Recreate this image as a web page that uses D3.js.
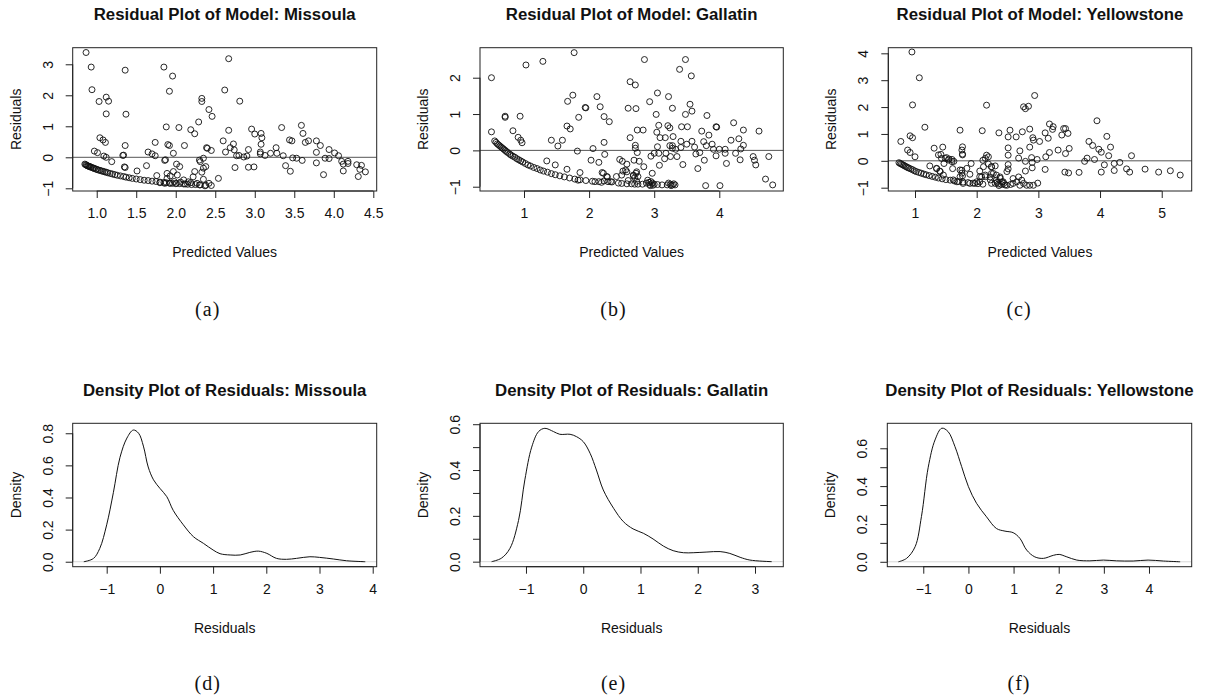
<!DOCTYPE html>
<html>
<head>
<meta charset="utf-8">
<script src="https://cdn.jsdelivr.net/npm/d3@7"></script>
<style>
  body { margin: 0; background: #fff; }
  svg text { font-family: "Liberation Sans", Arial, Helvetica, sans-serif; fill: #111; }
</style>
</head>
<body>
<svg id="chart" width="1205" height="700"></svg>
<script>
// ---- Residuals vs predicted values, one array of [predicted, residual] per county ----
const missoulaFit = [
  [0.865,3.38],[0.93,2.91],[0.94,2.18],[1.03,1.80],[1.12,1.94],[1.15,1.81],[1.12,1.40],[1.36,2.81],[1.37,1.39],
  [1.36,0.38],[1.33,0.06],[1.34,0.07],[1.35,-0.31],[1.36,-0.33],[1.04,0.63],[1.08,0.56],[1.11,0.48],[0.97,0.20],
  [1.01,0.15],[1.09,0.04],[1.12,0.0],[1.19,-0.14],[1.51,-0.44],[1.63,-0.27],[1.65,0.17],[1.70,0.11],[1.74,0.05],
  [1.74,0.48],[1.76,-0.59],[1.85,2.91],[1.92,2.13],[1.96,2.62],[1.88,0.98],[1.90,0.41],[1.92,0.38],[1.97,0.13],
  [2.04,0.96],[2.11,0.38],[1.86,-0.10],[1.87,-0.08],[2.19,0.89],[2.24,0.76],[2.29,1.14],[2.33,1.90],[2.33,1.80],
  [2.42,1.54],[2.46,1.32],[2.39,0.31],[2.45,0.22],[2.35,-0.03],[2.31,-0.14],[2.38,-0.30],[2.33,-0.48],[2.35,-0.71],
  [2.45,-0.91],[2.54,-0.68],[2.60,0.53],[2.62,2.17],[2.67,3.18],[2.67,0.87],[2.63,0.17],[2.69,0.31],[2.73,0.43],
  [2.74,0.24],[2.75,-0.33],[2.77,0.05],[2.81,1.81],[2.80,0.06],[2.86,0.01],[2.90,0.04],[2.92,0.25],[2.92,-0.32],
  [2.96,0.91],[2.99,-0.31],[3.00,0.75],[3.08,0.77],[3.09,0.63],[3.08,0.42],[3.07,0.17],[3.07,0.11],[3.13,0.06],
  [3.20,0.13],[3.27,0.31],[3.28,0.13],[3.34,0.96],[3.36,0.05],[3.39,-0.27],[3.44,0.56],[3.47,0.53],[3.45,-0.45],
  [3.48,-0.02],[3.53,-0.03],[3.59,1.03],[3.61,0.77],[3.64,0.48],[3.68,0.53],[3.60,-0.10],[3.78,0.53],[3.78,0.16],
  [3.83,0.38],[3.78,-0.18],[3.87,-0.56],[3.89,-0.03],[3.94,-0.04],[3.94,0.25],[4.01,0.14],[4.06,0.05],[4.10,-0.13],
  [4.12,-0.44],[4.12,-0.22],[4.18,-0.13],[4.18,-0.20],[4.29,-0.24],[4.31,-0.62],[4.35,-0.26],[4.33,-0.39],[4.40,-0.47],
  [1.89,-0.52],[1.93,-0.60],[1.97,-0.46],[2.02,-0.57],[2.05,-0.30],[2.01,-0.22],[1.89,-0.68],[2.10,-0.73],[2.16,-0.79],
  [2.22,-0.63],[2.24,-0.46],[2.30,-0.09],[2.40,0.29],[2.35,-0.35],[2.31,-0.89],[2.37,-0.92],[2.27,-0.84],[2.19,-0.82],
  [2.12,-0.86],[2.01,-0.84],[1.93,-0.84],[1.86,-0.84],[1.80,-0.82],[2.06,-0.80],[1.98,-0.78],[2.42,-0.84],
  [0.85,-0.22],[0.86,-0.24],[0.87,-0.25],[0.88,-0.27],[0.89,-0.28],[0.90,-0.29],[0.91,-0.30],[0.92,-0.31],[0.93,-0.32],
  [0.95,-0.34],[0.96,-0.35],[0.97,-0.36],[0.99,-0.38],[1.00,-0.39],[1.02,-0.41],[1.04,-0.42],[1.06,-0.44],[1.08,-0.45],
  [1.10,-0.47],[1.12,-0.48],[1.14,-0.50],[1.17,-0.52],[1.20,-0.54],[1.23,-0.56],[1.26,-0.58],[1.30,-0.60],[1.34,-0.62],
  [1.37,-0.64],[1.41,-0.66],[1.45,-0.68],[1.50,-0.70],[1.55,-0.72],[1.60,-0.74],[1.65,-0.75],[1.70,-0.77],[1.75,-0.78],
  [1.80,-0.80],[1.85,-0.81],[1.88,-0.82],[1.92,-0.83],[1.96,-0.84],[2.00,-0.85],[2.05,-0.85],[2.10,-0.86],[2.15,-0.87],
  [2.20,-0.88],[2.25,-0.88],[2.30,-0.89],[2.38,-0.90]
];

const gallatinFit = [
  [0.50,2.0],[0.50,0.51],[0.71,0.94],[0.71,0.91],[0.94,0.94],[0.83,0.54],[0.91,0.36],[0.95,0.28],[0.97,0.21],
  [1.03,2.35],[1.29,2.45],[1.35,-0.29],[1.42,0.28],[1.48,-0.40],[1.52,0.12],[1.59,0.28],[1.67,1.35],[1.66,0.67],
  [1.71,0.59],[1.75,1.52],[1.77,2.69],[1.66,-0.52],[1.82,-0.02],[1.84,0.91],[1.86,-0.61],[1.94,1.18],[1.95,1.17],
  [2.03,-0.27],[2.06,0.05],[2.12,1.48],[2.17,1.20],[2.15,-0.33],[2.20,-0.61],[2.23,0.93],[2.23,0.22],[2.24,-0.11],
  [2.31,0.79],[2.28,-0.73],[2.33,-0.86],[2.23,-0.84],[2.47,-0.25],[2.51,-0.30],[2.52,-0.57],[2.56,-0.54],[2.58,-0.38],
  [2.60,1.16],[2.63,0.35],[2.63,1.89],[2.71,1.80],[2.72,1.15],[2.74,0.56],[2.71,0.14],[2.71,0.06],[2.74,-0.06],
  [2.69,-0.27],[2.77,-0.30],[2.72,-0.63],[2.75,-0.72],[2.83,0.56],[2.84,-0.45],[2.85,2.50],[2.93,1.34],[2.95,-0.16],
  [2.97,-0.63],[3.03,0.99],[3.04,0.50],[3.05,1.58],[3.07,0.69],[3.05,0.10],[3.00,-0.08],[3.07,-0.08],[3.09,0.35],
  [3.08,-0.41],[3.17,0.35],[3.18,-0.08],[3.16,-0.23],[3.22,1.48],[3.21,0.68],[3.24,0.62],[3.24,0.13],[3.25,-0.17],
  [3.28,1.16],[3.28,0.13],[3.28,0.06],[3.29,0.38],[3.33,0.03],[3.35,-0.17],[3.39,2.23],[3.41,0.25],[3.41,0.08],
  [3.42,0.65],[3.44,-0.39],[3.48,2.50],[3.48,0.99],[3.51,0.65],[3.50,0.17],[3.55,1.27],[3.57,2.05],[3.58,1.08],
  [3.58,0.25],[3.62,0.09],[3.64,-0.10],[3.67,-0.50],[3.70,-0.06],[3.73,0.53],[3.76,0.24],[3.77,-0.27],[3.81,0.96],
  [3.79,-0.97],[3.80,0.13],[3.84,0.42],[3.89,0.17],[3.95,0.65],[3.96,0.64],[3.91,0.03],[3.95,-0.15],[4.01,-0.97],
  [4.00,0.03],[4.09,0.03],[4.11,-0.36],[4.09,-0.08],[4.18,0.28],[4.22,0.76],[4.25,-0.08],[4.30,0.32],[4.32,-0.26],
  [4.33,0.04],[4.37,0.56],[4.37,0.14],[4.52,-0.17],[4.54,-0.27],[4.56,-0.40],[4.61,0.53],[4.71,-0.79],[4.76,-0.17],
  [4.82,-0.95],
  [2.09,-0.86],[2.19,-0.88],[2.29,-0.86],[2.42,-0.72],[2.50,-0.68],[2.58,-0.59],[2.68,-0.68],[2.73,-0.59],[2.22,-0.63],
  [2.27,-0.72],[1.83,-0.82],
  [2.35,-0.87],[2.45,-0.90],[2.50,-0.91],[2.58,-0.92],[2.65,-0.92],[2.70,-0.93],[2.75,-0.93],[2.82,-0.93],[2.88,-0.90],
  [2.92,-0.88],[2.95,-0.86],[2.97,-0.90],[3.00,-0.93],[2.93,-0.94],[3.05,-0.94],[3.12,-0.95],[3.20,-0.95],[3.22,-0.90],
  [3.25,-0.93],[3.28,-0.95],[3.30,-0.92],[3.32,-0.95],[2.70,-0.75],[2.73,-0.85],[2.68,-0.70],[2.60,-0.83],[2.90,-0.82],
  [2.94,-0.97],[2.98,-0.96],[3.26,-0.97],
  [0.55,0.26],[0.57,0.22],[0.59,0.18],[0.61,0.15],[0.63,0.12],[0.65,0.09],[0.67,0.06],[0.69,0.03],[0.71,0.00],
  [0.73,-0.03],[0.75,-0.06],[0.78,-0.10],[0.80,-0.13],[0.83,-0.16],[0.86,-0.19],[0.89,-0.23],[0.92,-0.26],[0.95,-0.29],
  [0.98,-0.32],[1.02,-0.36],[1.06,-0.40],[1.10,-0.43],[1.15,-0.47],[1.20,-0.50],[1.25,-0.54],[1.30,-0.57],[1.36,-0.60],
  [1.42,-0.64],[1.48,-0.67],[1.55,-0.70],[1.62,-0.73],[1.70,-0.76],[1.78,-0.79],[1.86,-0.81],[1.95,-0.83],[2.05,-0.85],
  [2.15,-0.86]
];

const yellowstoneFit = [
  [0.95,4.05],[1.07,3.09],[0.96,2.08],[0.77,0.72],[0.92,0.93],[0.96,0.86],[0.88,0.40],[0.92,0.31],[1.00,0.15],
  [1.16,1.25],[1.24,-0.19],[1.31,0.47],[1.45,0.51],[1.42,0.24],[1.47,-0.10],[1.35,-0.29],[1.40,-0.38],[1.51,0.12],
  [1.55,0.07],[1.60,0.05],[1.63,-0.02],[1.61,-0.29],[1.73,1.14],[1.77,0.52],[1.77,0.25],[1.76,-0.35],[1.77,-0.56],
  [1.91,-0.10],[1.89,-0.50],[2.09,1.12],[2.16,2.07],[2.10,0.02],[2.16,0.21],[2.19,-0.12],[2.24,-0.22],[2.27,-0.47],
  [2.36,1.04],[2.51,0.48],[2.51,0.21],[2.51,-0.14],[2.51,-0.30],[2.51,0.89],[2.54,1.14],[2.64,0.89],[2.68,0.10],
  [2.70,0.37],[2.74,1.08],[2.76,2.01],[2.79,1.94],[2.84,2.03],[2.94,2.43],[2.86,1.18],[2.91,0.86],[2.92,0.77],
  [2.86,0.51],[2.89,0.12],[2.90,-0.06],[2.90,-0.26],[2.79,-0.02],[2.79,-0.38],[2.98,0.05],[3.02,0.72],[3.11,1.04],
  [3.11,-0.32],[3.12,0.15],[3.16,0.84],[3.18,0.31],[3.18,1.37],[3.23,1.17],[3.24,1.27],[3.32,0.40],[3.38,0.96],
  [3.41,1.20],[3.44,1.20],[3.44,0.27],[3.43,-0.42],[3.49,-0.45],[3.48,1.02],[3.50,0.46],[3.66,-0.43],[3.75,-0.02],
  [3.79,0.10],[3.82,0.72],[3.88,0.57],[3.91,0.05],[3.95,1.49],[3.98,0.43],[4.02,0.32],[4.02,-0.42],[4.07,-0.15],
  [4.11,0.91],[4.14,0.19],[4.17,0.51],[4.23,-0.36],[4.23,-0.10],[4.32,-0.06],[4.43,-0.30],[4.48,-0.42],[4.51,0.19],
  [4.73,-0.31],[4.95,-0.42],[5.14,-0.37],[5.30,-0.53],[2.99,-0.83],
  [2.05,-0.38],[2.11,-0.22],[2.14,0.09],[2.19,0.15],[2.24,-0.22],[2.30,-0.19],[2.24,-0.47],[2.32,-0.53],[2.38,-0.65],
  [2.41,-0.78],[2.35,-0.86],[2.46,-0.90],[2.30,-0.84],[2.22,-0.71],[2.14,-0.59],[2.05,-0.59],[2.00,-0.78],[1.89,-0.84],
  [1.78,-0.84],[1.73,-0.59],[1.68,-0.78],[1.62,-0.71],[2.49,-0.40],
  [1.38,0.22],[1.43,0.09],[1.49,0.09],[1.54,0.03],[1.60,-0.03],[1.35,-0.28],[1.41,-0.40],[1.46,-0.53],[1.73,-0.34],
  [1.76,-0.46],[1.84,-0.28],[1.76,0.40],[1.77,0.22],
  [2.38,-0.60],[2.43,-0.78],[2.49,-0.91],[2.59,-0.84],[2.65,-0.78],[2.68,-0.60],[2.70,-0.91],[2.76,-0.84],[2.81,-0.91],
  [2.86,-0.91],[2.92,-0.91],[2.59,-0.66],[2.73,-0.72],[2.32,-0.72],[2.24,-0.84],[2.22,-0.60],[2.14,-0.53],[2.08,-0.60],
  [2.05,-0.78],[1.97,-0.84],[2.36,-0.92],[2.40,-0.88],[2.44,-0.84],[2.33,-0.80],[2.55,-0.88],
  [0.74,-0.07],[0.76,-0.10],[0.78,-0.12],[0.80,-0.15],[0.82,-0.17],[0.84,-0.20],[0.86,-0.22],[0.88,-0.25],[0.90,-0.27],
  [0.93,-0.30],[0.96,-0.33],[0.99,-0.37],[1.02,-0.40],[1.06,-0.43],[1.10,-0.46],[1.14,-0.49],[1.18,-0.52],[1.23,-0.55],
  [1.28,-0.58],[1.33,-0.61],[1.38,-0.64],[1.44,-0.67],[1.50,-0.70],[1.57,-0.72],[1.64,-0.75],[1.71,-0.77],[1.78,-0.79],
  [1.86,-0.81],[1.94,-0.83],[2.02,-0.85],[2.10,-0.87]
];

// ---- Kernel density estimates of the residuals, [residual, density] ----
const missoulaDensity = [
  [-1.43,0.0],[-1.25,0.02],[-1.13,0.083],[-1.0,0.23],[-0.875,0.43],[-0.75,0.65],[-0.62,0.77],[-0.50,0.82],
  [-0.40,0.80],[-0.31,0.72],[-0.22,0.59],[-0.12,0.51],[0.0,0.457],[0.13,0.405],[0.25,0.32],[0.44,0.23],
  [0.63,0.156],[0.82,0.114],[1.0,0.073],[1.13,0.05],[1.32,0.042],[1.51,0.042],[1.69,0.058],[1.85,0.066],
  [2.01,0.052],[2.19,0.021],[2.38,0.015],[2.57,0.021],[2.82,0.031],[3.0,0.027],[3.26,0.017],[3.51,0.006],[3.86,0.0]
];
const gallatinDensity = [
  [-1.60,0.0],[-1.43,0.015],[-1.28,0.058],[-1.13,0.18],[-1.02,0.357],[-0.90,0.50],[-0.78,0.568],[-0.67,0.582],
  [-0.52,0.568],[-0.41,0.556],[-0.23,0.556],[-0.12,0.546],[0.0,0.524],[0.12,0.473],[0.23,0.40],[0.35,0.313],
  [0.53,0.233],[0.70,0.175],[0.87,0.143],[1.05,0.124],[1.22,0.099],[1.40,0.068],[1.57,0.048],[1.75,0.039],
  [1.92,0.039],[2.16,0.042],[2.39,0.044],[2.56,0.036],[2.74,0.019],[2.91,0.007],[3.29,0.0]
];
const yellowstoneDensity = [
  [-1.55,0.0],[-1.37,0.018],[-1.18,0.08],[-1.04,0.24],[-0.89,0.50],[-0.74,0.644],[-0.59,0.706],[-0.45,0.688],
  [-0.30,0.61],[-0.15,0.503],[0.0,0.397],[0.18,0.309],[0.40,0.238],[0.62,0.176],[0.81,0.162],[0.99,0.154],
  [1.14,0.124],[1.29,0.062],[1.47,0.026],[1.66,0.018],[1.88,0.034],[2.01,0.039],[2.18,0.026],[2.40,0.009],
  [2.69,0.005],[2.99,0.009],[3.28,0.005],[3.65,0.004],[3.98,0.009],[4.32,0.004],[4.69,0.0]
];

// ---- Axis ticks ----
const missoulaXTicks = [1.0,1.5,2.0,2.5,3.0,3.5,4.0,4.5];
const missoulaYTicks = [-1,0,1,2,3];
const gallatinXTicks = [1,2,3,4];
const gallatinYTicks = [-1,0,1,2];
const yellowstoneXTicks = [1,2,3,4,5];
const yellowstoneYTicks = [-1,0,1,2,3,4];
const missoulaResidTicks = [-1,0,1,2,3,4];
const gallatinResidTicks = [-1,0,1,2,3];
const yellowstoneResidTicks = [-1,0,1,2,3,4];
const missoulaDensTicks = [0.0,0.2,0.4,0.6,0.8];
const gallatinDensTicks = [0.0,0.1,0.2,0.3,0.4,0.5,0.6];
const yellowstoneDensTicks = [0.0,0.1,0.2,0.3,0.4,0.5,0.6];
const densLabelTicks = [0.0,0.2,0.4,0.6,0.8];

const panels = [
  { kind: "scatter", title: "Residual Plot of Model: Missoula", data: missoulaFit,
    box: [72.7, 47.7, 376.7, 191], xDom: [0.696, 4.543], yDom: [-1.087, 3.535],
    xTicks: missoulaXTicks, yTicks: missoulaYTicks, xFmt: d3.format(".1f"), yFmt: d3.format("d"),
    xLab: "Predicted Values", yLab: "Residuals", tag: "(a)", tagX: 207.7, tagY: 308.7 },
  { kind: "scatter", title: "Residual Plot of Model: Gallatin", data: gallatinFit,
    box: [480, 47.7, 783.3, 191], xDom: [0.324, 4.983], yDom: [-1.118, 2.826],
    xTicks: gallatinXTicks, yTicks: gallatinYTicks, xFmt: d3.format("d"), yFmt: d3.format("d"),
    xLab: "Predicted Values", yLab: "Residuals", tag: "(b)", tagX: 613.5, tagY: 308.7 },
  { kind: "scatter", title: "Residual Plot of Model: Yellowstone", data: yellowstoneFit,
    box: [888.3, 47.7, 1191.7, 191], xDom: [0.567, 5.486], yDom: [-1.123, 4.209],
    xTicks: yellowstoneXTicks, yTicks: yellowstoneYTicks, xFmt: d3.format("d"), yFmt: d3.format("d"),
    xLab: "Predicted Values", yLab: "Residuals", tag: "(c)", tagX: 1019, tagY: 308.7 },
  { kind: "density", title: "Density Plot of Residuals: Missoula", data: missoulaDensity,
    box: [72.7, 423.3, 376.7, 566.7], xDom: [-1.639, 4.075], yDom: [-0.031, 0.862],
    xTicks: missoulaResidTicks, yTicks: missoulaDensTicks, xFmt: d3.format("d"), yFmt: d3.format(".1f"),
    xLab: "Residuals", yLab: "Density", tag: "(d)", tagX: 207.7, tagY: 683.3 },
  { kind: "density", title: "Density Plot of Residuals: Gallatin", data: gallatinDensity,
    box: [480, 423.3, 783.3, 566.7], xDom: [-1.803, 3.494], yDom: [-0.022, 0.604],
    xTicks: gallatinResidTicks, yTicks: gallatinDensTicks, xFmt: d3.format("d"), yFmt: d3.format(".1f"),
    xLab: "Residuals", yLab: "Density", tag: "(e)", tagX: 613.5, tagY: 683.3 },
  { kind: "density", title: "Density Plot of Residuals: Yellowstone", data: yellowstoneDensity,
    box: [887.3, 423.3, 1191.7, 566.7], xDom: [-1.797, 4.946], yDom: [-0.026, 0.732],
    xTicks: yellowstoneResidTicks, yTicks: yellowstoneDensTicks, xFmt: d3.format("d"), yFmt: d3.format(".1f"),
    xLab: "Residuals", yLab: "Density", tag: "(f)", tagX: 1019, tagY: 683.3 }
];

const svg = d3.select("#chart");
const TICK = 7;

panels.forEach((p, i) => {
  const [x0, y0, x1, y1] = p.box;
  const x = d3.scaleLinear().domain(p.xDom).range([x0, x1]);
  const y = d3.scaleLinear().domain(p.yDom).range([y1, y0]);
  const g = svg.append("g");
  const clipId = "clip" + i;
  g.append("clipPath").attr("id", clipId)
    .append("rect").attr("x", x0).attr("y", y0).attr("width", x1 - x0).attr("height", y1 - y0);

  // title
  g.append("text")
    .attr("x", (x0 + x1) / 2).attr("y", y0 - 27.3)
    .attr("text-anchor", "middle")
    .style("font-size", "16.8px").style("font-weight", "bold")
    .text(p.title);

  const plot = g.append("g").attr("clip-path", `url(#${clipId})`);

  if (p.kind === "scatter") {
    plot.append("line")
      .attr("x1", x0).attr("x2", x1).attr("y1", y(0)).attr("y2", y(0))
      .attr("stroke", "#555").attr("stroke-width", 1);
    plot.selectAll("circle").data(p.data).join("circle")
      .attr("cx", d => x(d[0])).attr("cy", d => y(d[1])).attr("r", 3)
      .attr("fill", "none").attr("stroke", "#111").attr("stroke-width", 0.9);
  } else {
    plot.append("line")
      .attr("x1", x0).attr("x2", x1).attr("y1", y(0)).attr("y2", y(0))
      .attr("stroke", "#d8d8d8").attr("stroke-width", 1);
    const line = d3.line().x(d => x(d[0])).y(d => y(d[1])).curve(d3.curveCatmullRom.alpha(0.5));
    plot.append("path").datum(p.data).attr("d", line)
      .attr("fill", "none").attr("stroke", "#111").attr("stroke-width", 1);
  }

  // frame
  g.append("rect").attr("x", x0).attr("y", y0).attr("width", x1 - x0).attr("height", y1 - y0)
    .attr("fill", "none").attr("stroke", "#222").attr("stroke-width", 1);

  // x axis
  const xa = g.append("g").attr("transform", `translate(0,${y1})`)
    .call(d3.axisBottom(x).tickValues(p.xTicks).tickFormat(p.xFmt).tickSize(TICK).tickPadding(0));
  xa.select(".domain").attr("d", `M${x(p.xTicks[0])},0H${x(p.xTicks[p.xTicks.length - 1])}`).attr("stroke", "#222");
  xa.selectAll(".tick line").attr("stroke", "#222");
  xa.selectAll(".tick text").attr("y", 27).attr("dy", null)
    .style("font-size", "14px").style("font-family", '"Liberation Sans", Arial, sans-serif').attr("fill", "#111");

  // y axis
  const ya = g.append("g").attr("transform", `translate(${x0},0)`)
    .call(d3.axisLeft(y).tickValues(p.yTicks).tickFormat(p.yFmt).tickSize(TICK));
  ya.select(".domain").attr("d", `M0,${y(p.yTicks[0])}V${y(p.yTicks[p.yTicks.length - 1])}`).attr("stroke", "#222");
  ya.selectAll(".tick line").attr("stroke", "#222");
  ya.selectAll(".tick text")
    .attr("x", null).attr("dy", null)
    .attr("transform", "translate(-20,0) rotate(-90)")
    .attr("text-anchor", "middle").attr("y", 0)
    .style("font-size", "14px").style("font-family", '"Liberation Sans", Arial, sans-serif').attr("fill", "#111")
    .text(d => (p.kind === "density" && !densLabelTicks.some(v => Math.abs(v - d) < 1e-9)) ? "" : p.yFmt(d));

  // axis titles
  g.append("text")
    .attr("x", (x0 + x1) / 2).attr("y", y1 + 66.3)
    .attr("text-anchor", "middle").style("font-size", "14px")
    .text(p.xLab);
  g.append("text")
    .attr("transform", `translate(${x0 - 52},${(y0 + y1) / 2}) rotate(-90)`)
    .attr("text-anchor", "middle").style("font-size", "14px")
    .text(p.yLab);

  // sub-figure tag
  g.append("text")
    .attr("x", p.tagX).attr("y", p.tagY).attr("dy", "0.35em")
    .attr("text-anchor", "middle")
    .style("font-family", '"Liberation Serif", "DejaVu Serif", serif')
    .style("font-size", "20px").style("letter-spacing", "1px")
    .text(p.tag);
});
</script>
</body>
</html>
